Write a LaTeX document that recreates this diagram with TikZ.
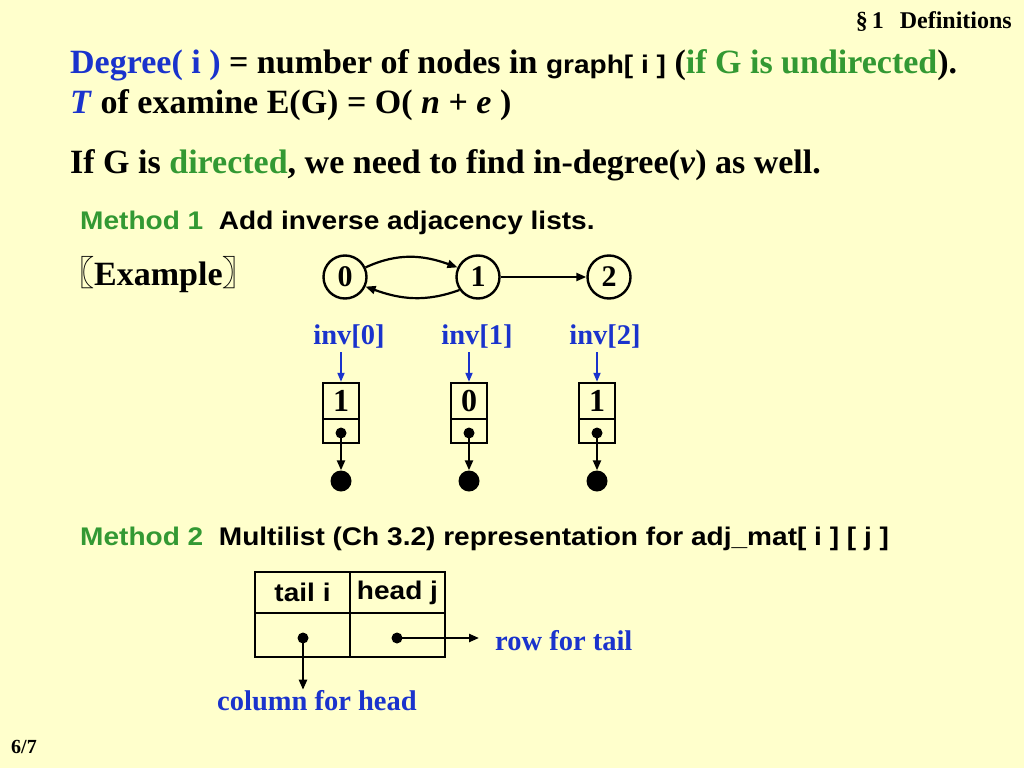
\documentclass[tikz,border=0pt]{standalone}
\usepackage{fontspec}
\setmainfont{Liberation Serif}
\setsansfont{Liberation Sans}
\newfontfamily\wsans[FakeStretch=1.1]{Liberation Sans}
\newfontfamily\cjk{Noto Sans CJK SC}
\usetikzlibrary{arrows.meta}
\definecolor{bg}{HTML}{FFFFCC}
\definecolor{tblue}{HTML}{1A33CC}
\definecolor{tgreen}{HTML}{339933}
\begin{document}
\begin{tikzpicture}[x=1pt,y=-1pt,
  big/.style={anchor=base west,inner sep=0pt,font=\bfseries\fontsize{34}{36}\selectfont},
  sans/.style={anchor=base west,inner sep=0pt,font=\wsans\bfseries\fontsize{25.5}{27}\selectfont},
  small/.style={inner sep=0pt,font=\bfseries\fontsize{20}{22}\selectfont},
  lab/.style={anchor=base,inner sep=0pt,text=tblue,font=\bfseries\fontsize{28.5}{30}\selectfont},
  gnode/.style={draw,circle,line width=2.4pt,minimum size=43pt,inner sep=0pt,font=\bfseries\fontsize{30}{32}\selectfont},
  cell/.style={draw,line width=2.4pt,minimum width=36pt,inner sep=0pt,font=\bfseries\fontsize{32}{34}\selectfont},
  mcell/.style={draw,line width=2.4pt,minimum width=95pt,inner sep=0pt,font=\wsans\bfseries\fontsize{25.5}{27}\selectfont},
  dot/.style={circle,fill,minimum size=11pt,inner sep=0pt},
  bigdot/.style={circle,fill,minimum size=21pt,inner sep=0pt},
  arr/.style={-{Triangle[length=10pt,width=8pt]},line width=2.2pt},
  barr/.style={-{Triangle[length=9pt,width=7pt]},line width=1.8pt,draw=tblue,fill=tblue},
]
\fill[bg] (0,0) rectangle (1024,768);
\useasboundingbox (0,0) rectangle (1024,768);

\node[small,anchor=base east,font=\bfseries\fontsize{24}{26}\selectfont] (sec) at (1012,29) {\S\,1\ \ \,Definitions};
\node[small,anchor=base west] (pg) at (11,753) {6/7};

\node[big] (l1) at (70,73) {\textcolor{tblue}{Degree( i )} = number of nodes in {\wsans\fontsize{25.5}{27}\selectfont graph[ i ]} (\textcolor{tgreen}{if G is undirected}).};
\node[big] (l2) at (70,113) {\textcolor{tblue}{\textit{T}} of examine E(G) = O( \textit{n} + \textit{e} )};
\node[big] (l3) at (70,173) {If G is \textcolor{tgreen}{directed}, we need to find in-degree(\textit{v}) as well.};
\node[sans] (m1) at (80,229) {\textcolor{tgreen}{Method 1}\ \ Add inverse adjacency lists.};
\node[big] (ex) at (60,285) {{\cjk 〖}Example{\cjk 〗}};

\node[gnode] (g0) at (345,277) {0};
\node[gnode] (g1) at (478,277) {1};
\node[gnode] (g2) at (609,277) {2};
\draw[arr] (g0.25) to[out=25,in=160] (g1.155);
\draw[arr] (g1.215) to[out=200,in=-20] (g0.-25);
\draw[arr] (g1) -- (g2);

\foreach \i/\x/\v in {0/341/1,1/469/0,2/597/1}{
  \node[lab] (i\i) at (\x+8,344) {inv[\i]};
  \node[cell,minimum height=36pt] (ca\i) at (\x,401) {\v};
  \node[cell,minimum height=24pt] (cb\i) at (\x,431) {};
  \node[dot] (d\i) at (\x,433) {};
  \node[bigdot] (e\i) at (\x,481) {};
  \draw[barr] (ca\i.north |- i\i.south) ++(0,4) -- (ca\i.north);
  \draw[arr] (d\i.center) -- (e\i.north);
}

\node[sans] (m2) at (80,545) {\textcolor{tgreen}{Method 2}\ \ Multilist (Ch 3.2) representation for adj\_mat[ i ] [ j ]};

\node[mcell,minimum height=41pt] (ta) at (302.5,592.5) {tail i};
\node[mcell,minimum height=41pt] (ha) at (397.5,592.5) {head j};
\node[mcell,minimum height=44pt] (tb) at (302.5,635) {};
\node[mcell,minimum height=44pt] (hb) at (397.5,635) {};
\node[dot] (dl) at (303,638) {};
\node[dot] (dr) at (397,638) {};
\node[lab,anchor=base west] (row) at (495,650) {row for tail};
\node[lab,anchor=base west] (col) at (217,710) {column for head};
\draw[arr] (dl.center) -- (dl.center |- col.north);
\draw[arr,shorten >=16pt] (dr.center) -- (dr.center -| row.west);
\end{tikzpicture}
\end{document}
